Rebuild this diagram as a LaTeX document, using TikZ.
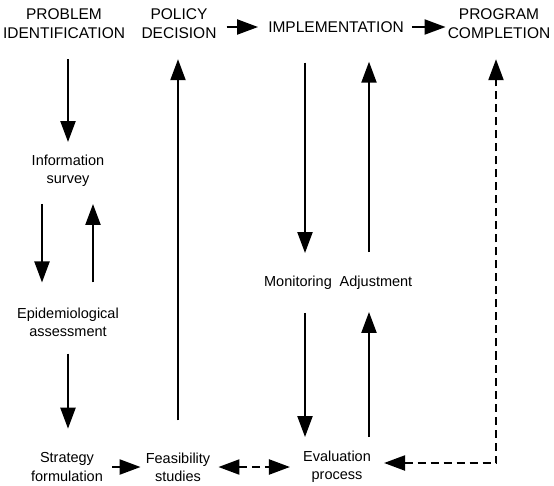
\documentclass[tikz,border=0pt]{standalone}
\usepackage{fontspec}
\setmainfont{Liberation Sans}
\usetikzlibrary{arrows.meta}

\begin{document}
\begin{tikzpicture}[x=1pt,y=-1pt,
        stage/.style={align=center,inner sep=0pt,font=\fontsize{15.5}{19}\selectfont},
        task/.style={align=center,inner sep=0pt,font=\fontsize{14.5}{18}\selectfont},
        tip/.tip={Triangle[length=21pt,width=15pt]},
        flow/.style={line width=2.2pt,-tip},
        dflow/.style={line width=2.2pt,tip-tip,dash pattern=on 8pt off 5pt}]
    \useasboundingbox (0,0) rectangle (554,485);
    % top row
    \node[stage] (prob) at (64,24) {PROBLEM\\IDENTIFICATION};
    \node[stage] (policy) at (179,24) {POLICY\\DECISION};
    \node[stage] (impl) at (336,27) {IMPLEMENTATION};
    \node[stage] (prog) at (499,24) {PROGRAM\\COMPLETION};
    % left column
    \node[task] (info) at (68,171) {Information\\survey};
    \node[task] (epi) at (68,322) {Epidemiological\\assessment};
    \node[task] (strat) at (67,467) {Strategy\\formulation};
    \node[task] (feas) at (178,467) {Feasibility\\studies};
    % implementation loop
    \node[task] (mon) at (298,283) {Monitoring};
    \node[task] (adj) at (376,283) {Adjustment};
    \node[task] (eval) at (337,467) {Evaluation\\process};

    \draw[flow,shorten <=10pt,shorten >=10pt] (policy.east |- impl) -- (impl.west);
    \draw[flow,shorten <=8pt,shorten >=2pt] (impl.east) -- (impl -| prog.west);
    \draw[flow,shorten <=20pt,shorten >=13pt] (info.north |- prob.south) -- (info.north);
    \draw[flow,shorten <=17pt,shorten >=25pt] ([xshift=-26pt]info.south) -- ([xshift=-26pt]epi.north);
    \draw[flow,shorten <=25pt,shorten >=17pt] ([xshift=25pt]epi.north) -- ([xshift=25pt]info.south);
    \draw[flow,shorten <=17pt,shorten >=24pt] (epi.south) -- (epi.south |- strat.north);
    \draw[flow,shorten <=9pt,shorten >=5pt] (strat.east) -- (feas.west);
    \draw[flow,shorten <=32pt,shorten >=20pt] (feas.north) -- (feas.north |- policy.south);
    \draw[flow,shorten <=30pt,shorten >=23pt] ([xshift=-31pt]impl.south) -- ([xshift=7pt]mon.north);
    \draw[flow,shorten <=23pt,shorten >=14pt] ([xshift=7pt]mon.south) -- ([xshift=-32pt]eval.north);
    \draw[flow,shorten <=14pt,shorten >=22pt] ([xshift=32pt]eval.north) -- ([xshift=-7pt]adj.south);
    \draw[flow,shorten <=24pt,shorten >=29pt] ([xshift=-7pt]adj.north) -- ([xshift=33pt]impl.south);
    \draw[dflow,shorten <=8pt,shorten >=13pt] (feas.east) -- (eval.west);
    \draw[dflow,shorten <=13pt,shorten >=20pt] ([yshift=4pt]eval.east) -| ([xshift=-3pt]prog.south);
\end{tikzpicture}
\end{document}
